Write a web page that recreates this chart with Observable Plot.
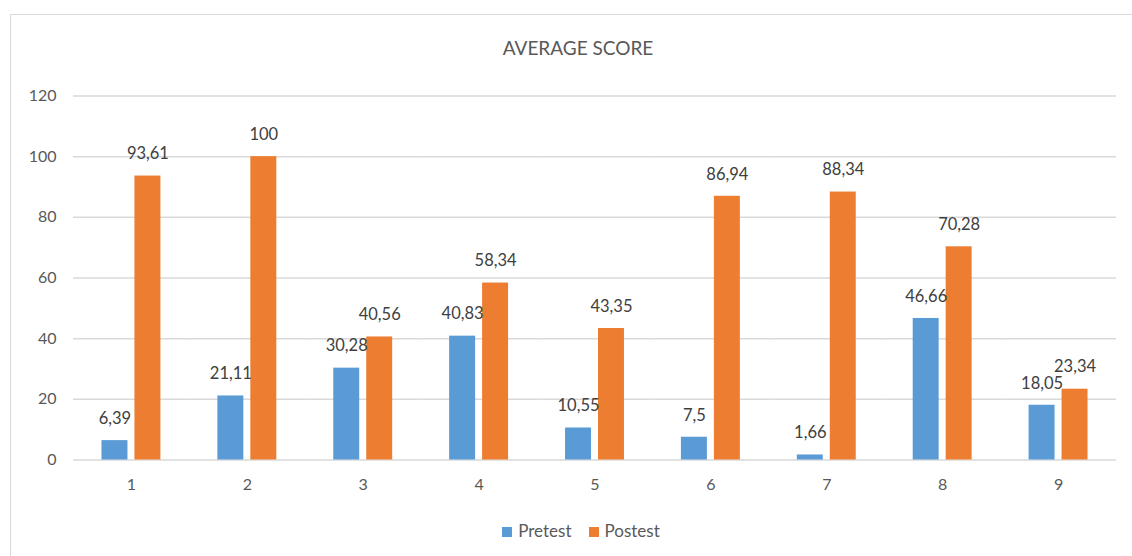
<!DOCTYPE html>
<html>
<head>
<meta charset="utf-8">
<script src="https://cdn.jsdelivr.net/npm/d3@7"></script>
<script src="https://cdn.jsdelivr.net/npm/@observablehq/plot@0.6"></script>
<style>
  html, body { margin: 0; padding: 0; background: #fff; width: 1132px; height: 556px; overflow: hidden; position: relative; font-family: Lato, "Open Sans", sans-serif; }
  #frame { position: absolute; left: 10px; top: 14px; width: 1140px; height: 560px; border: 1.5px solid #d9d9d9; box-sizing: border-box; }
  #title { position: absolute; left: 10px; width: 1136px; top: 37px; text-align: center; font-size: 19px; line-height: 22px; color: #595959; }
  #chart { position: absolute; left: 0; top: 60px; }
  #legend { position: absolute; left: 10px; width: 1142px; top: 519px; display: flex; justify-content: center; gap: 17px; font-size: 17px; line-height: 24px; color: #595959; }
  #legend span.sw { display: inline-block; width: 10px; height: 10px; margin-right: 6px; vertical-align: 0px; }
</style>
</head>
<body>
<div id="frame"></div>
<div id="title">AVERAGE SCORE</div>
<div id="chart"></div>
<div id="legend"></div>
<script>
const categories = ["1", "2", "3", "4", "5", "6", "7", "8", "9"];
const seriesNames = ["Pretest", "Postest"];
const pretest = [6.39, 21.11, 30.28, 40.83, 10.55, 7.5, 1.66, 46.66, 18.05];
const postest = [93.61, 100, 40.56, 58.34, 43.35, 86.94, 88.34, 70.28, 23.34];
const yTicks = [0, 20, 40, 60, 80, 100, 120];
const colors = ["#5B9BD5", "#ED7D31"];

const data = [];
categories.forEach((c, i) => {
  data.push({cat: c, series: "Pretest", value: pretest[i]});
  data.push({cat: c, series: "Postest", value: postest[i]});
});
const fmt = v => String(v).replace(".", ",");

const chart = Plot.plot({
  width: 1132,
  height: 440,
  marginLeft: 73,
  marginRight: 16,
  marginTop: 35.5,
  marginBottom: 40.5,
  style: {fontFamily: "Lato, 'Open Sans', sans-serif", fontSize: "16px", color: "#595959", background: "transparent"},
  fx: {domain: categories, padding: 0, round: false, label: null, tickSize: 0, tickPadding: 19},
  x: {domain: seriesNames, axis: null, round: false, paddingInner: 0.212, paddingOuter: 0.864},
  y: {domain: [0, 120], ticks: yTicks, label: null, tickSize: 0, tickPadding: 17},
  color: {domain: seriesNames, range: colors},
  marks: [
    Plot.ruleY(yTicks, {stroke: "#d9d9d9", strokeWidth: 1.5}),
    Plot.barY(data, {fx: "cat", x: "series", y: "value", fill: "series"}),
    Plot.text(data, {fx: "cat", x: "series", y: "value", text: d => fmt(d.value), dy: -22, fill: "#404040", fontSize: 16.5})
  ]
});
document.getElementById("chart").appendChild(chart);

const legend = document.getElementById("legend");
seriesNames.forEach((s, i) => {
  const item = document.createElement("div");
  item.innerHTML = `<span class="sw" style="background:${colors[i]}"></span>${s}`;
  legend.appendChild(item);
});
</script>
</body>
</html>
